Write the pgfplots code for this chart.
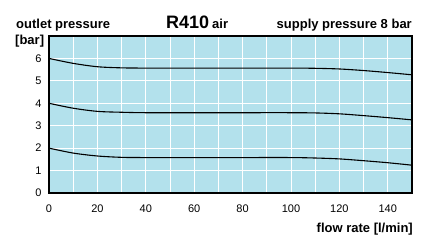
\documentclass[border=0pt]{standalone}
\usepackage{pgfplots}
\pgfplotsset{compat=1.18}
\usepackage{fontspec}
\setmainfont{Liberation Sans}
\definecolor{bgblue}{RGB}{179,225,236}
\begin{document}
\begin{tikzpicture}[x=1pt,y=1pt]
\begin{axis}[
  at={(0,0)}, anchor=south west,
  scale only axis, width=363pt, height=157pt,
  xmin=0, xmax=150, ymin=0, ymax=7,
  xtick={0,20,...,140}, ytick={0,1,...,6},
  minor xtick={10,30,...,150},
  extra y ticks={7}, extra y tick labels={},
  grid=both,
  major grid style={white, line width=1pt},
  minor grid style={white, line width=1pt},
  extra y tick style={grid=none},
  axis background/.style={fill=bgblue},
  axis line style={black, line width=1.2pt},
  major tick length=0pt, minor tick length=0pt,
  tick label style={font=\fontsize{11}{12}\selectfont},
  /pgf/number format/assume math mode=true,
  xticklabel style={yshift=-8pt},
  yticklabel style={xshift=-4pt},
  clip=false,
]
\addplot[black, line width=1.1pt, smooth] coordinates {
(0,6.0) (10,5.78) (20,5.63) (30,5.58) (40,5.57) (60,5.57) (80,5.57) (100,5.57) (110,5.56) (120,5.53) (130,5.46) (140,5.37) (150,5.27)};
\addplot[black, line width=1.1pt, smooth] coordinates {
(0,4.0) (10,3.78) (20,3.64) (30,3.6) (40,3.58) (60,3.58) (80,3.58) (100,3.58) (110,3.57) (120,3.53) (130,3.45) (140,3.36) (150,3.26)};
\addplot[black, line width=1.1pt, smooth] coordinates {
(0,2.0) (10,1.78) (20,1.65) (30,1.59) (40,1.58) (60,1.58) (80,1.58) (100,1.58) (110,1.56) (120,1.52) (130,1.44) (140,1.35) (150,1.24)};
\end{axis}
\node[anchor=base west, inner sep=0pt, font=\bfseries\fontsize{13}{14}\selectfont] at (-33,164) {outlet pressure};
\node[anchor=base west, inner sep=0pt, font=\bfseries\fontsize{13}{14}\selectfont] at (-34,148) {[bar]};
\node[anchor=base west, inner sep=0pt] at (117,164) {\bfseries\fontsize{18}{20}\selectfont R410\,\fontsize{13}{14}\selectfont air};
\node[anchor=base east, inner sep=0pt, font=\bfseries\fontsize{13}{14}\selectfont] at (363,164) {supply pressure 8 bar};
\node[anchor=base east, inner sep=0pt, font=\bfseries\fontsize{13}{14}\selectfont] at (364,-40) {flow rate [l/min]};
\useasboundingbox (-49,-55) rectangle (373,193);
\end{tikzpicture}
\end{document}
